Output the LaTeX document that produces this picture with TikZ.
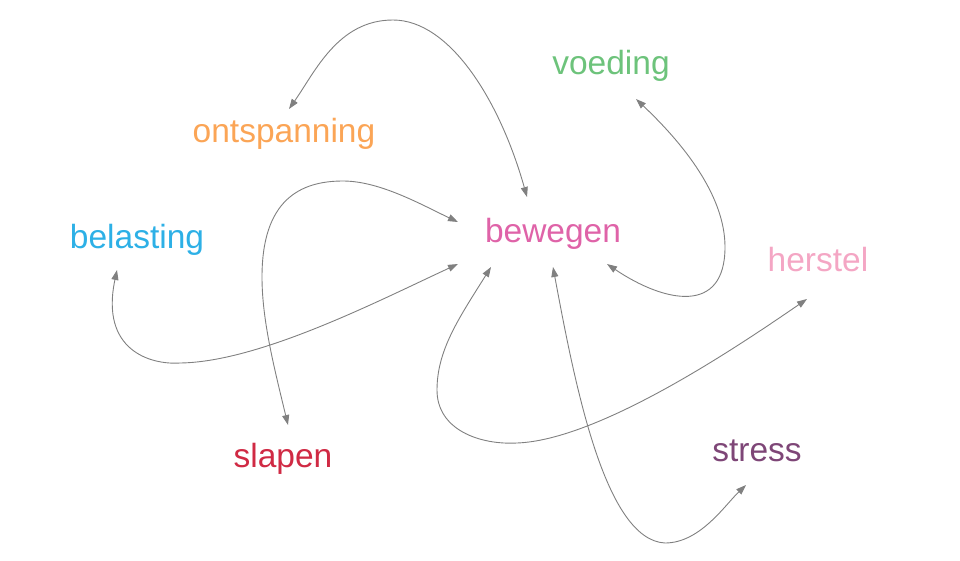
\documentclass[tikz,border=0pt]{standalone}
\usepackage{fontspec}
\setmainfont{Liberation Sans}
\usetikzlibrary{arrows.meta}
\definecolor{cOnt}{RGB}{251,165,86}
\definecolor{cVoe}{RGB}{109,195,123}
\definecolor{cBel}{RGB}{45,176,230}
\definecolor{cBew}{RGB}{223,99,168}
\definecolor{cHer}{RGB}{244,166,196}
\definecolor{cSla}{RGB}{208,42,68}
\definecolor{cStr}{RGB}{126,70,119}
\definecolor{cLine}{RGB}{128,128,128}
\tikzset{
  word/.style={anchor=base, inner sep=0pt, font=\fontsize{33.5}{40}\selectfont},
  link/.style={draw=cLine, line width=0.9pt, {Triangle[length=10pt,width=7pt]}-{Triangle[length=10pt,width=7pt]}}
}
\begin{document}
\begin{tikzpicture}[x=1pt,y=-1pt]
\useasboundingbox (0,0) rectangle (960,560);
\node[word, text=cOnt] (ont) at (284,142) {ontspanning};
\node[word, text=cVoe] (voe) at (611,74) {voeding};
\node[word, text=cBel] (bel) at (137,248) {belasting};
\node[word, text=cBew] (bew) at (553,242) {bewegen};
\node[word, text=cHer] (her) at (818,271) {herstel};
\node[word, text=cSla] (sla) at (283,467) {slapen};
\node[word, text=cStr] (str) at (757,461) {stress};
% ontspanning - bewegen
\draw[link] ([shift={(5,-33)}]ont.base) .. controls (315,72) and (338,20) .. (393,20)
  .. controls (450,20) and (500,101) .. ([shift={(-26,-45)}]bew.base);
% voeding - bewegen
\draw[link] ([shift={(25,25)}]voe.base) .. controls (690,150) and (725,200) .. (725,247)
  .. controls (725,315) and (665,303) .. ([shift={(54,22)}]bew.base);
% slapen - bewegen
\draw[link] ([shift={(5,-42)}]sla.base) .. controls (274,367) and (262,320) .. (262,277)
  .. controls (262,200) and (300,181) .. (343,181)
  .. controls (380,181) and (422,205) .. ([shift={(-95,-20)}]bew.base);
% belasting - bewegen
\draw[link] ([shift={(-20,22)}]bel.base) .. controls (100,350) and (150,365) .. (180,363)
  .. controls (260,362) and (380,300) .. ([shift={(-95,22)}]bew.base);
% bewegen - herstel
\draw[link] ([shift={(-62,25)}]bew.base) .. controls (459,318) and (437,350) .. (437,390)
  .. controls (437,430) and (480,445) .. (517,443)
  .. controls (600,440) and (740,345) .. ([shift={(-11,28)}]her.base);
% bewegen - stress
\draw[link] ([shift={(0,25)}]bew.base) .. controls (575,385) and (605,540) .. (665,543)
  .. controls (700,543) and (725,505) .. ([shift={(-11,24)}]str.base);
\end{tikzpicture}
\end{document}
